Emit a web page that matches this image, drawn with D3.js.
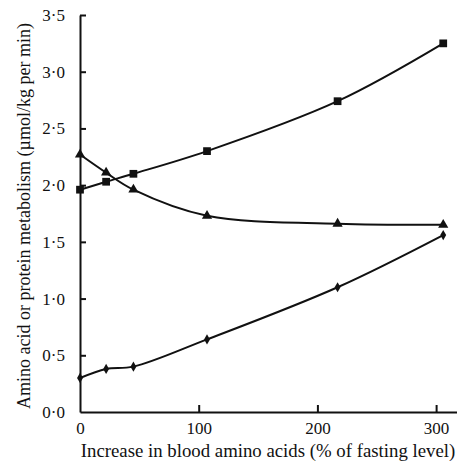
<!DOCTYPE html>
<html><head><meta charset="utf-8">
<script src="https://cdn.jsdelivr.net/npm/d3@7"></script>
<style>body{margin:0;background:#fff}svg{display:block}text{font-family:"Liberation Serif","Times New Roman",serif;fill:#111}</style>
</head><body><svg id="c" width="457" height="471"></svg>
<script>
const xValues = [0, 22, 45, 107, 217, 306];
const squareSeries = [1.96, 2.03, 2.10, 2.30, 2.74, 3.25];
const triangleSeries = [2.27, 2.11, 1.96, 1.73, 1.66, 1.65];
const diamondSeries = [0.30, 0.38, 0.40, 0.64, 1.10, 1.56];
const xTicks = [0, 100, 200, 300];
const yTicks = [0, 0.5, 1, 1.5, 2, 2.5, 3, 3.5];
const xTitle = "Increase in blood amino acids (% of fasting level)";
const yTitle = "Amino acid or protein metabolism (\u00b5mol/kg per min)";

const svg = d3.select("#c");
const x = d3.scaleLinear().domain([0, 317.6]).range([80, 457]);
const y = d3.scaleLinear().domain([0, 3.5]).range([412, 15]);
const ink = "#111";

const xa = svg.append("g").attr("transform", "translate(0,412)")
  .call(d3.axisBottom(x).tickValues(xTicks).tickSizeInner(-7).tickSizeOuter(0).tickPadding(10).tickFormat(d3.format("d")));
const ya = svg.append("g").attr("transform", "translate(80,0)")
  .call(d3.axisLeft(y).tickValues(yTicks).tickSizeInner(-6).tickSizeOuter(0).tickPadding(15).tickFormat(d => d3.format(".1f")(d).replace(".", "\u00b7")));
[xa, ya].forEach(a => {
  a.attr("font-family", null);
  a.select(".domain").attr("stroke", ink).attr("stroke-width", 2);
  a.selectAll(".tick line").attr("stroke", ink).attr("stroke-width", 2);
  a.selectAll("text").attr("font-size", 17).attr("fill", ink);
});
xa.selectAll(".tick").filter(d => d === 0).select("line").remove();
ya.selectAll(".tick").filter(d => d === 0).select("line").remove();
ya.selectAll("text").attr("dy", "0.32em");

const line = d3.line().x((d, i) => x(xValues[i])).y(d => y(d)).curve(d3.curveCatmullRom.alpha(0.5));
const series = [
  {vals: squareSeries, sym: d3.symbolSquare, size: 60},
  {vals: triangleSeries, sym: d3.symbolTriangle, size: 45},
  {vals: diamondSeries, sym: d3.symbolDiamond, size: 30}
];
series.forEach(s => {
  svg.append("path").attr("d", line(s.vals)).attr("fill", "none").attr("stroke", ink).attr("stroke-width", 2);
  svg.append("g").selectAll("path").data(s.vals).join("path")
    .attr("transform", (d, i) => `translate(${x(xValues[i])},${y(d)})`)
    .attr("d", d3.symbol().type(s.sym).size(s.size)).attr("fill", ink);
});

svg.append("text").attr("x", 268).attr("y", 457).attr("text-anchor", "middle").attr("font-size", 18.8).text(xTitle);
svg.append("text").attr("transform", "translate(24,216) rotate(-90)").attr("text-anchor", "middle").attr("dy", "0.35em").attr("font-size", 18).text(yTitle);
</script></body></html>
